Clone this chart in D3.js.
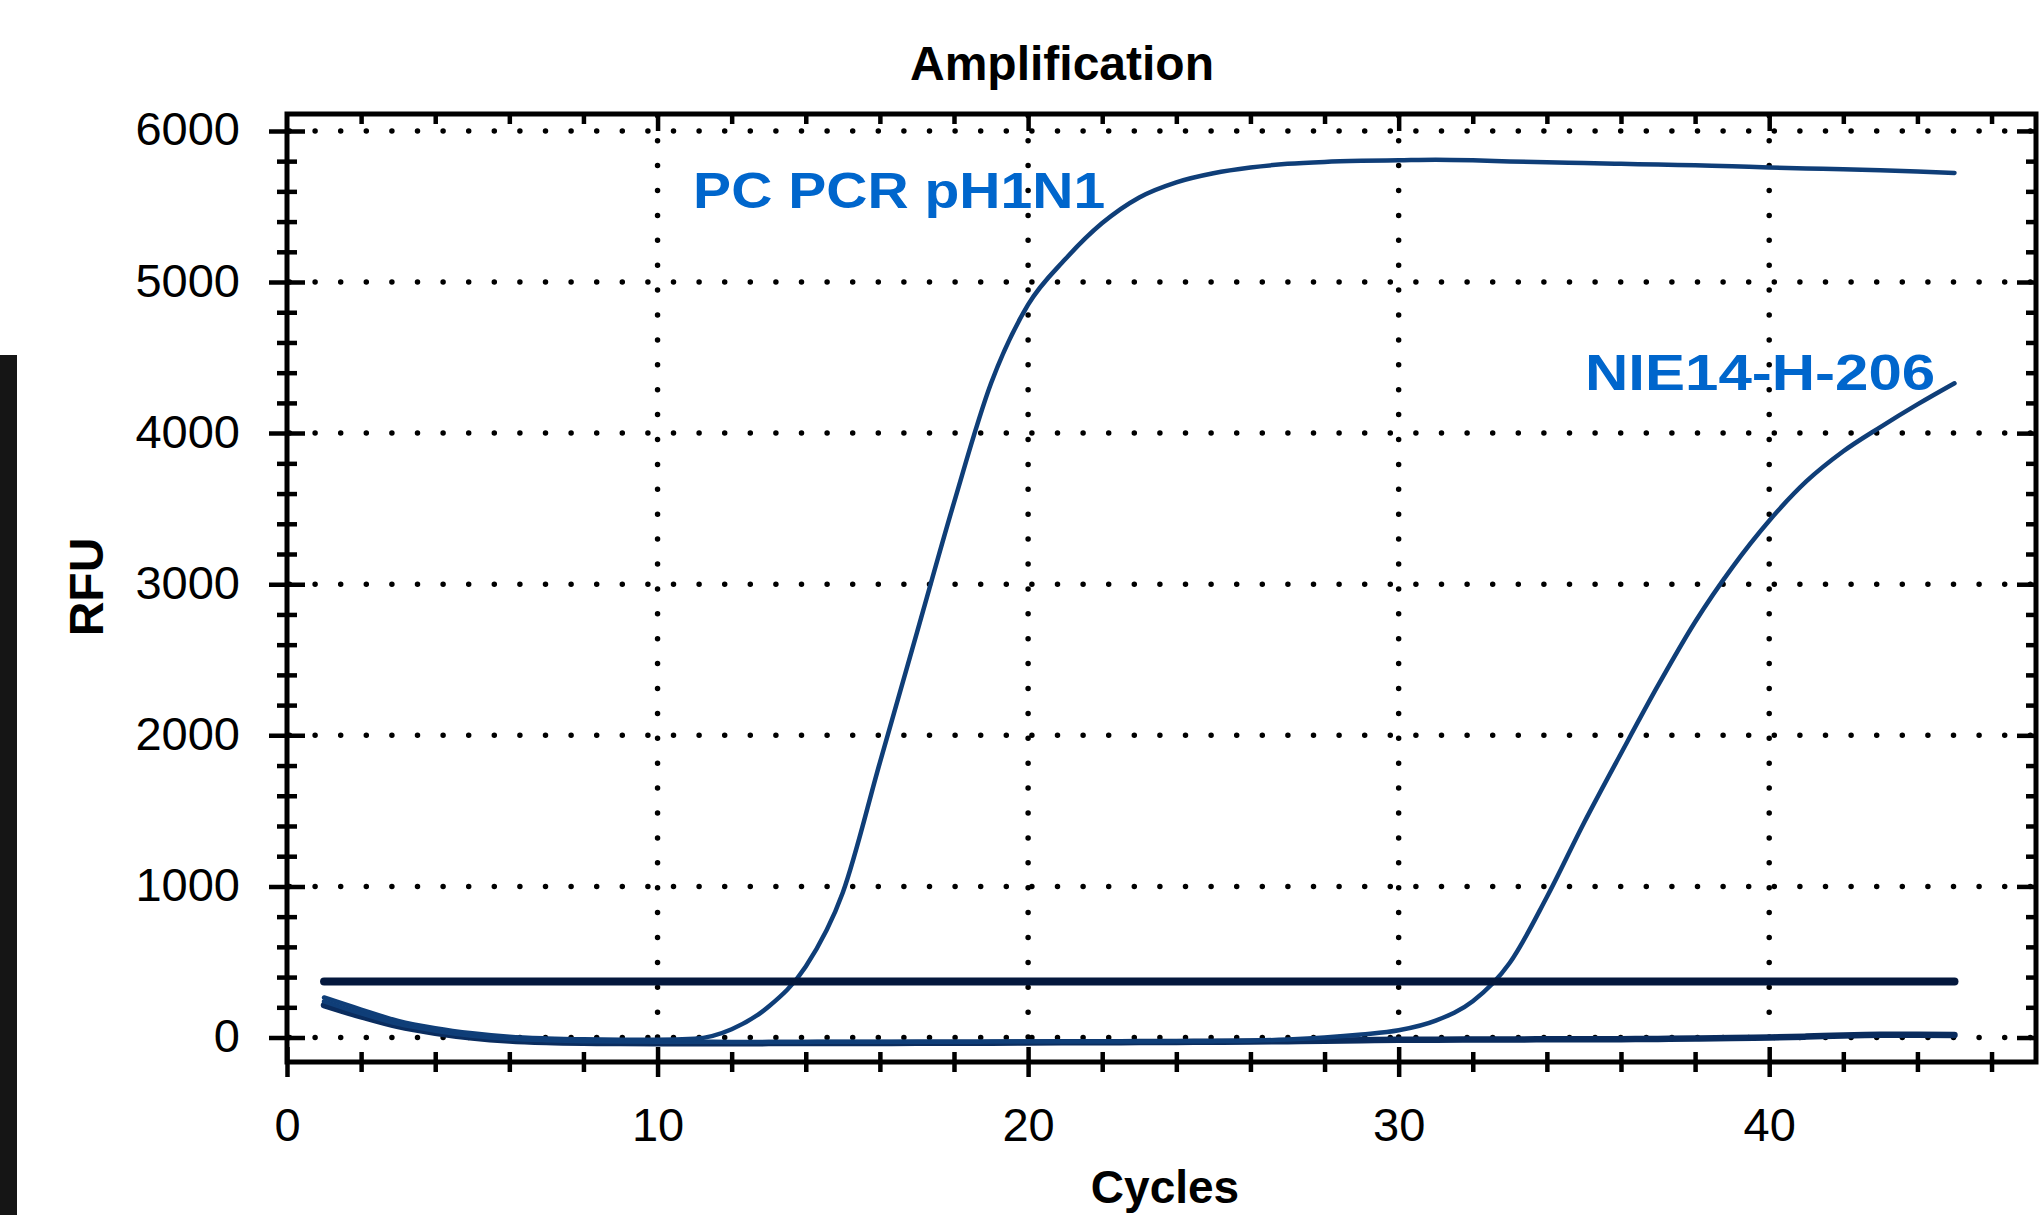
<!DOCTYPE html>
<html>
<head>
<meta charset="utf-8">
<script src="https://cdn.jsdelivr.net/npm/d3@7"></script>
<style>
  body { margin: 0; background: #fff; }
  svg { display: block; font-family: "Liberation Sans", Arial, sans-serif; }
</style>
</head>
<body>
<svg id="chart"></svg>
<script>
//-------------data-------------
var cycles = [1,2,3,4,5,6,7,8,9,10,11,12,13,14,15,16,17,18,19,20,21,22,23,24,25,
  26,27,28,29,30,31,32,33,34,35,36,37,38,39,40,41,42,43,44,45];

// PC PCR pH1N1 (early riser)
var pcRfu = [265,185,110,62,28,5,-6,-12,-14,-14,-8,55,205,470,960,1820,2680,3540,4330,4850,
  5150,5390,5560,5660,5720,5758,5782,5795,5802,5806,5810,5806,5798,5792,5787,5782,5778,5772,
  5766,5758,5752,5747,5740,5732,5722];

// NIE14-H-206 (late riser)
var nieRfu = [240,160,90,45,12,-8,-18,-24,-27,-28,-28,-29,-29,-29,-28,-28,-28,-28,-27,-27,
  -27,-26,-26,-25,-24,-21,-13,0,20,48,112,240,495,930,1420,1880,2330,2750,3110,3420,
  3680,3880,4040,4190,4330];

// flat negative trace
var negRfu = [215,140,75,32,0,-20,-30,-35,-37,-38,-38,-38,-37,-37,-36,-36,-35,-35,-34,-33,
  -32,-31,-30,-29,-28,-26,-24,-21,-18,-15,-14,-13,-13,-12,-12,-11,-9,-6,-3,0,
  6,14,18,18,17];

var threshold = 370;

var xTicks = [0, 10, 20, 30, 40];
var xTickLabels = ["0", "10", "20", "30", "40"];
var yTicks = [0, 1000, 2000, 3000, 4000, 5000, 6000];
var yTickLabels = ["0", "1000", "2000", "3000", "4000", "5000", "6000"];

var labelText = ["PC PCR pH1N1", "NIE14-H-206"];
var labelFrom = [10.96, 35.03];   // cycle where the label starts
var labelTo = [22.08, 44.48];     // cycle where the label ends
var labelRfu = [5490, 4285];      // baseline in RFU

var xMax = 47.2, yMin = -162, yMax = 6112;

//-------------layout-------------
var width = 2042, height = 1215;
var margin = {top: 114, right: 6, bottom: 153, left: 287};

var svg = d3.select("#chart")
  .attr("width", width)
  .attr("height", height);

svg.append("rect")
  .attr("width", width).attr("height", height)
  .attr("fill", "#fff");

// dark strip on the far left of the screenshot
svg.append("rect")
  .attr("x", 0).attr("y", 355)
  .attr("width", 17).attr("height", height - 355)
  .attr("fill", "#151515");

var x = d3.scaleLinear()
  .domain([0, xMax])
  .range([margin.left, width - margin.right]);

var y = d3.scaleLinear()
  .domain([yMin, yMax])
  .range([height - margin.bottom, margin.top]);

var xMinor = d3.range(2, 47, 2).filter(function(d){ return d % 10 != 0; });
var yMinor = d3.range(200, 6001, 200).filter(function(d){ return d % 1000 != 0; });

//-------------title + annotations-------------
svg.append("text")
  .attr("x", 1062)
  .attr("y", 80)
  .attr("text-anchor", "middle")
  .style("font-weight", "bold")
  .style("font-size", "48px")
  .text("Amplification");

svg.append("g")
  .selectAll("text")
  .data(labelText)
  .enter()
  .append("text")
  .attr("x", function(d, i){ return x(labelFrom[i]); })
  .attr("y", function(d, i){ return y(labelRfu[i]); })
  .attr("textLength", function(d, i){ return x(labelTo[i]) - x(labelFrom[i]); })
  .attr("lengthAdjust", "spacingAndGlyphs")
  .style("font-weight", "bold")
  .style("font-size", "50px")
  .style("fill", "#0066cc")
  .text(function(d){ return d; });

//-------------dotted grid-------------
var grid = svg.append("g")
  .attr("stroke", "#000")
  .attr("stroke-width", 5.5)
  .attr("stroke-linecap", "round");

grid.selectAll("line.h")
  .data(yTicks)
  .enter()
  .append("line")
  .attr("class", "h")
  .attr("x1", x(0)).attr("x2", x(xMax))
  .attr("y1", function(d){ return y(d); })
  .attr("y2", function(d){ return y(d); })
  .attr("stroke-dasharray", "0 25.6")
  .attr("stroke-dashoffset", 23.1);

grid.selectAll("line.v")
  .data(xTicks.filter(function(d){ return d > 0; }))
  .enter()
  .append("line")
  .attr("class", "v")
  .attr("x1", function(d){ return x(d); })
  .attr("x2", function(d){ return x(d); })
  .attr("y1", y(yMin)).attr("y2", y(yMax))
  .attr("stroke-dasharray", "0 24.9");

//-------------curves-------------
var series = [
  {name: "neg", values: negRfu, width: 6.5, color: "#0a2c5e"},
  {name: "nie", values: nieRfu, width: 4.5, color: "#0f3e78"},
  {name: "pc", values: pcRfu, width: 4.5, color: "#0f3e78"}
];

var line = d3.line()
  .x(function(d, i){ return x(cycles[i]); })
  .y(function(d){ return y(d); })
  .curve(d3.curveMonotoneX);

svg.append("g")
  .selectAll("path")
  .data(series)
  .enter()
  .append("path")
  .attr("d", function(d){ return line(d.values); })
  .attr("fill", "none")
  .attr("stroke", function(d){ return d.color; })
  .attr("stroke-width", function(d){ return d.width; })
  .attr("stroke-linecap", "round")
  .attr("stroke-linejoin", "round");

// threshold line
svg.append("line")
  .attr("x1", x(cycles[0]))
  .attr("x2", x(cycles[cycles.length - 1]))
  .attr("y1", y(threshold))
  .attr("y2", y(threshold))
  .attr("stroke", "#04183d")
  .attr("stroke-width", 8)
  .attr("stroke-linecap", "round");

//-------------axes-------------
function styleTicks(g, attr, len) {
  g.attr("font-size", null).attr("font-family", null);
  g.select(".domain").remove();
  var l = g.selectAll(".tick line")
    .attr("stroke", "#000")
    .attr("stroke-width", 4.5);
  if (attr) l.attr(attr, len);
}

// left
var gLeft = svg.append("g")
  .attr("transform", "translate(" + x(0) + ",0)")
  .call(d3.axisLeft(y)
    .tickValues(yTicks)
    .tickSize(18)
    .tickSizeOuter(0)
    .tickPadding(29)
    .tickFormat(function(d, i){ return yTickLabels[i]; }));
styleTicks(gLeft, "x1", 18);
gLeft.selectAll(".tick text")
  .attr("dy", 14)
  .attr("fill", "#000")
  .style("font-size", "47px");

svg.append("g")
  .attr("transform", "translate(" + x(0) + ",0)")
  .call(d3.axisLeft(y).tickValues(yMinor).tickSize(10).tickSizeOuter(0).tickFormat(""))
  .call(styleTicks, "x1", 10);

// bottom
var gBottom = svg.append("g")
  .attr("transform", "translate(0," + y(yMin) + ")")
  .call(d3.axisBottom(x)
    .tickValues(xTicks)
    .tickSize(15)
    .tickSizeOuter(0)
    .tickFormat(function(d, i){ return xTickLabels[i]; }));
styleTicks(gBottom, "y1", -15);
gBottom.selectAll(".tick text")
  .attr("y", 79)
  .attr("dy", 0)
  .attr("fill", "#000")
  .style("font-size", "47px");

svg.append("g")
  .attr("transform", "translate(0," + y(yMin) + ")")
  .call(d3.axisBottom(x).tickValues(xMinor).tickSize(10).tickSizeOuter(0).tickFormat(""))
  .call(styleTicks, "y1", -10);

// top (inward ticks)
svg.append("g")
  .attr("transform", "translate(0," + y(yMax) + ")")
  .call(d3.axisTop(x).tickValues(xMinor).tickSize(-10).tickSizeOuter(0).tickFormat(""))
  .call(styleTicks);
svg.append("g")
  .attr("transform", "translate(0," + y(yMax) + ")")
  .call(d3.axisTop(x).tickValues(xTicks.filter(function(d){ return d > 0; }))
    .tickSize(-17).tickSizeOuter(0).tickFormat(""))
  .call(styleTicks);

// right (inward ticks)
svg.append("g")
  .attr("transform", "translate(" + x(xMax) + ",0)")
  .call(d3.axisRight(y).tickValues(yMinor).tickSize(-10).tickSizeOuter(0).tickFormat(""))
  .call(styleTicks);
svg.append("g")
  .attr("transform", "translate(" + x(xMax) + ",0)")
  .call(d3.axisRight(y).tickValues(yTicks).tickSize(-19).tickSizeOuter(0).tickFormat(""))
  .call(styleTicks);

// frame
svg.append("rect")
  .attr("x", x(0))
  .attr("y", y(yMax))
  .attr("width", x(xMax) - x(0))
  .attr("height", y(yMin) - y(yMax))
  .attr("fill", "none")
  .attr("stroke", "#000")
  .attr("stroke-width", 5);

//-------------axis titles-------------
svg.append("text")
  .attr("transform", "translate(103," + 587 + ") rotate(-90)")
  .attr("text-anchor", "middle")
  .style("font-weight", "bold")
  .style("font-size", "48px")
  .text("RFU");

// the reference crops this title at the bottom edge; keep it just inside
svg.append("text")
  .attr("x", 1165)
  .attr("y", 1203)
  .attr("text-anchor", "middle")
  .style("font-weight", "bold")
  .style("font-size", "46px")
  .text("Cycles");
</script>
</body>
</html>
